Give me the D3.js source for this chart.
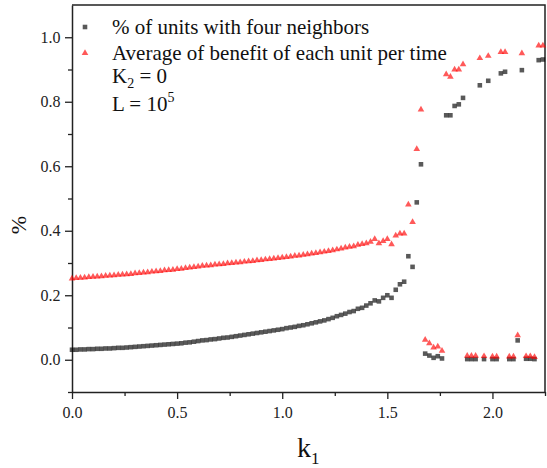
<!DOCTYPE html>
<html>
<head>
<meta charset="utf-8">
<script src="https://cdn.jsdelivr.net/npm/d3@7"></script>
<style>
  body { margin: 0; background: #fff; }
  svg text { font-family: "Liberation Serif", "Times New Roman", Times, serif !important; }
</style>
</head>
<body>
<div id="chart"></div>
<script>
// k1 values (x)
const k1 = [
  0.00, 0.02, 0.04, 0.06, 0.08, 0.10, 0.12, 0.14, 0.16, 0.18,
  0.20, 0.22, 0.24, 0.26, 0.28, 0.30, 0.32, 0.34, 0.36, 0.38,
  0.40, 0.42, 0.44, 0.46, 0.48, 0.50, 0.52, 0.54, 0.56, 0.58,
  0.60, 0.62, 0.64, 0.66, 0.68, 0.70, 0.72, 0.74, 0.76, 0.78,
  0.80, 0.82, 0.84, 0.86, 0.88, 0.90, 0.92, 0.94, 0.96, 0.98,
  1.00, 1.02, 1.04, 1.06, 1.08, 1.10, 1.12, 1.14, 1.16, 1.18,
  1.20, 1.22, 1.24, 1.26, 1.28, 1.30, 1.32, 1.34, 1.36, 1.38,
  1.40, 1.42, 1.44, 1.46, 1.48, 1.50, 1.52, 1.54, 1.56, 1.58,
  1.60, 1.62, 1.64, 1.66, 1.68, 1.70, 1.72, 1.74, 1.76, 1.78,
  1.80, 1.82, 1.84, 1.86, 1.88, 1.90, 1.92, 1.94, 1.96, 1.98,
  2.00, 2.02, 2.04, 2.06, 2.08, 2.10, 2.12, 2.14, 2.16, 2.18,
  2.20, 2.22, 2.24
];

// % of units with four neighbors
const fourNeighbors = [
  0.031, 0.031, 0.032, 0.032, 0.033, 0.033, 0.034, 0.034, 0.035, 0.035,
  0.036, 0.037, 0.037, 0.038, 0.039, 0.040, 0.041, 0.042, 0.043, 0.044,
  0.045, 0.046, 0.047, 0.048, 0.049, 0.050, 0.051, 0.053, 0.054, 0.056,
  0.058, 0.060, 0.061, 0.063, 0.064, 0.066, 0.068, 0.069, 0.071, 0.073,
  0.075, 0.077, 0.079, 0.081, 0.083, 0.085, 0.087, 0.089, 0.091, 0.093,
  0.095, 0.098, 0.100, 0.102, 0.105, 0.107, 0.110, 0.113, 0.116, 0.119,
  0.122, 0.126, 0.130, 0.135, 0.139, 0.143, 0.148, 0.151, 0.158, 0.161,
  0.168, 0.175, 0.184, 0.181, 0.192, 0.200, 0.192, 0.217, 0.234, 0.242,
  0.321, 0.288, 0.488, 0.606, 0.019, 0.013, 0.006, 0.011, 0.004, 0.758,
  0.758, 0.787, 0.792, 0.812, 0.002, 0.002, 0.002, 0.851, 0.002, 0.865,
  0.002, 0.002, 0.888, 0.893, 0.002, 0.002, 0.060, 0.898, 0.003, 0.003,
  0.002, 0.929, 0.931
];

// Average of benefit of each unit per time
const avgBenefit = [
  0.252, 0.253, 0.254, 0.255, 0.256, 0.257, 0.258, 0.259, 0.260, 0.261,
  0.262, 0.263, 0.264, 0.265, 0.266, 0.268, 0.269, 0.270, 0.271, 0.273,
  0.274, 0.275, 0.277, 0.278, 0.279, 0.281, 0.282, 0.284, 0.286, 0.287,
  0.289, 0.291, 0.292, 0.293, 0.295, 0.296, 0.297, 0.299, 0.300, 0.301,
  0.302, 0.304, 0.305, 0.306, 0.308, 0.309, 0.311, 0.312, 0.314, 0.315,
  0.317, 0.318, 0.320, 0.322, 0.323, 0.325, 0.327, 0.329, 0.331, 0.333,
  0.335, 0.337, 0.339, 0.342, 0.345, 0.348, 0.350, 0.352, 0.356, 0.359,
  0.361, 0.366, 0.374, 0.361, 0.368, 0.374, 0.358, 0.385, 0.391, 0.391,
  0.481, 0.427, 0.653, 0.776, 0.062, 0.051, 0.038, 0.041, 0.028, 0.885,
  0.877, 0.900, 0.900, 0.916, 0.012, 0.012, 0.012, 0.935, 0.011, 0.942,
  0.010, 0.010, 0.954, 0.954, 0.010, 0.010, 0.076, 0.950, 0.011, 0.011,
  0.008, 0.974, 0.974
];

const xTicks = [0, 0.5, 1.0, 1.5, 2.0];
const yTicks = [0, 0.2, 0.4, 0.6, 0.8, 1.0];

const width = 547, height = 468;
const margin = { top: 5, right: 2, bottom: 76, left: 72 };
const serif = '"Liberation Serif", "Times New Roman", Times, serif';

const svg = d3.select("#chart").append("svg")
  .attr("width", width)
  .attr("height", height);

const x = d3.scaleLinear()
  .domain([0, 2.25])
  .range([margin.left, width - margin.right]);

const y = d3.scaleLinear()
  .domain([-0.1, 1.1])
  .range([height - margin.bottom, margin.top]);

// minor ticks
const xMinor = [0.25, 0.75, 1.25, 1.75, 2.25];
const yMinor = [-0.1, 0.1, 0.3, 0.5, 0.7, 0.9];

const xAxis = svg.append("g")
  .attr("transform", `translate(0,${height - margin.bottom})`)
  .call(d3.axisBottom(x).tickValues(xTicks).tickFormat(d3.format(".1f")).tickSize(7).tickSizeOuter(0));
svg.append("g")
  .attr("transform", `translate(0,${height - margin.bottom})`)
  .call(d3.axisBottom(x).tickValues(xMinor).tickFormat("").tickSize(4).tickSizeOuter(0))
  .select(".domain").remove();

const yAxis = svg.append("g")
  .attr("transform", `translate(${margin.left},0)`)
  .call(d3.axisLeft(y).tickValues(yTicks).tickFormat(d3.format(".1f")).tickSize(7).tickSizeOuter(0));
svg.append("g")
  .attr("transform", `translate(${margin.left},0)`)
  .call(d3.axisLeft(y).tickValues(yMinor).tickFormat("").tickSize(4).tickSizeOuter(0))
  .select(".domain").remove();

svg.selectAll("g").attr("font-family", serif);
svg.selectAll(".tick line").attr("stroke", "#222").attr("stroke-width", 1.3);
svg.selectAll(".domain").attr("stroke", "#222").attr("stroke-width", 1.5);
xAxis.selectAll("text").attr("font-size", 16).attr("fill", "#222").attr("dy", "1.0em");
yAxis.selectAll("text").attr("font-size", 16).attr("fill", "#222").attr("dx", "-0.1em");

// frame top / right
svg.append("path")
  .attr("d", `M${margin.left},${margin.top}H${width - margin.right}V${height - margin.bottom}`)
  .attr("fill", "none")
  .attr("stroke", "#222")
  .attr("stroke-width", 1.5);

const rows = k1.map((k, i) => ({ k, a: fourNeighbors[i], b: avgBenefit[i] }));

const square = d3.symbol().type(d3.symbolSquare).size(21);
const tri = d3.symbol().type(d3.symbolTriangle).size(19);

svg.append("g")
  .selectAll("path")
  .data(rows)
  .join("path")
  .attr("d", square)
  .attr("transform", d => `translate(${x(d.k)},${y(d.a)})`)
  .attr("fill", "#000")
  .attr("fill-opacity", 0.65);

svg.append("g")
  .selectAll("path")
  .data(rows)
  .join("path")
  .attr("d", tri)
  .attr("transform", d => `translate(${x(d.k)},${y(d.b)})`)
  .attr("fill", "#ff0000")
  .attr("fill-opacity", 0.65);

// legend
const legend = svg.append("g").attr("fill", "#111").attr("font-size", 21).attr("font-family", serif);
legend.append("path").attr("d", square)
  .attr("transform", "translate(85,27)")
  .attr("fill", "#000").attr("fill-opacity", 0.65);
legend.append("text").attr("x", 112).attr("y", 34).text("% of units with four neighbors");
legend.append("path").attr("d", tri)
  .attr("transform", "translate(85,53)")
  .attr("fill", "#ff0000").attr("fill-opacity", 0.65);
legend.append("text").attr("x", 112).attr("y", 60).text("Average of benefit of each unit per time");

const kt = legend.append("text").attr("x", 112).attr("y", 83);
kt.append("tspan").text("K");
kt.append("tspan").attr("font-size", 14).attr("dy", 5).text("2");
kt.append("tspan").attr("dy", -5).text(" = 0");

const lt = legend.append("text").attr("x", 112).attr("y", 111);
lt.append("tspan").text("L = 10");
lt.append("tspan").attr("font-size", 14).attr("dy", -9).text("5");

// axis titles
const xt = svg.append("text")
  .attr("x", 297).attr("y", 457)
  .attr("font-family", serif)
  .attr("font-size", 28).attr("fill", "#111");
xt.append("tspan").text("k");
xt.append("tspan").attr("font-size", 17).attr("dy", 7).text("1");

svg.append("text")
  .attr("transform", "translate(26,225) rotate(-90)")
  .attr("text-anchor", "middle")
  .attr("font-family", serif)
  .attr("font-size", 22).attr("fill", "#111")
  .text("%");
</script>
</body>
</html>
